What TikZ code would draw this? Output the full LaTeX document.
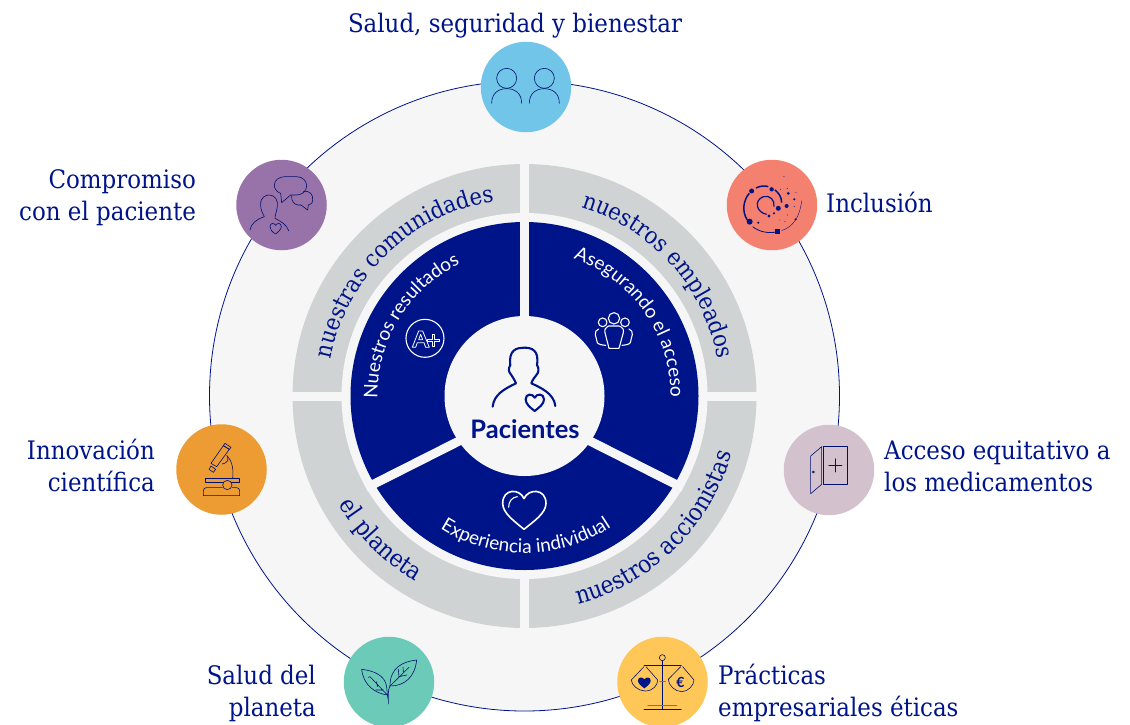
\documentclass[tikz,border=0pt]{standalone}
\usepackage{fontspec}
\usetikzlibrary{decorations.text}
\setmainfont{DejaVu Serif Condensed}
\newfontfamily\lat{Lato}
\definecolor{navy}{HTML}{001489}
\definecolor{ringbg}{HTML}{F6F6F7}
\definecolor{graybar}{HTML}{D0D3D4}
\definecolor{cblue}{HTML}{71C5E8}
\definecolor{csalmon}{HTML}{F4806F}
\definecolor{cpurple}{HTML}{9873A9}
\definecolor{corange}{HTML}{ED9B33}
\definecolor{cdoor}{HTML}{D3C1CD}
\definecolor{cleaf}{HTML}{6CCBB8}
\definecolor{cyellow}{HTML}{FFC658}
\newcommand{\outerfont}{\fontsize{25.5}{32}\selectfont\color{navy}}
\newcommand{\arcfont}{\fontsize{24.3}{32}\selectfont\color{navy}}
\newcommand{\arctopfont}{\fontsize{23.6}{32}\selectfont\color{navy}}
\newcommand{\innerfont}{\lat\fontsize{19}{22}\selectfont\color{white}}
\tikzset{
  badge/.style={circle,minimum size=90.5pt,inner sep=0pt,fill=#1},
  lab/.style={font=\outerfont,inner sep=0pt,text=navy},
  iconline/.style={draw=navy!80!black,line width=.6pt,line join=round,line cap=round},
  whiteline/.style={draw=white,line width=1.1pt,line join=round,line cap=round},
  curved/.style={decorate,decoration={text along path,text align=center,text={#1}}},
}
\begin{document}
\begin{tikzpicture}[x=1pt,y=-1pt]
\clip (0,0) rectangle (1130,724);
\useasboundingbox (0,0) rectangle (1130,724);
% rings
\node[circle,minimum size=630pt,inner sep=0pt,draw=navy,line width=.8pt,fill=ringbg] (ring) at (524.5,396) {};
\node[circle,minimum size=464pt,inner sep=0pt,fill=graybar] (gray) at (524.5,396) {};
\fill[ringbg] (519.8,160) rectangle (529,632);
\fill[ringbg] (288,392) rectangle (760,400.5);
\node[circle,minimum size=366pt,inner sep=0pt,fill=ringbg] (gap) at (524.5,396) {};
\node[circle,minimum size=348pt,inner sep=0pt,fill=navy] (core) at (524.5,396) {};
\coordinate (hub) at (524.5,408);
\draw[ringbg,line width=9pt] (524.5,340) -- (524.5,215);
\draw[ringbg,line width=9pt] (hub) -- (366,488);
\draw[ringbg,line width=9pt] (hub) -- (683,488);
\node[circle,minimum size=160pt,inner sep=0pt,fill=ringbg] (centre) at (524.5,396) {};
% curved texts
\begin{scope}[shift={(524.5,396)},x=1pt,y=1pt]
\path[curved={|\arctopfont|nuestras comunidades}] (171:197) arc[start angle=171,end angle=97,radius=197];
\path[curved={|\arctopfont|nuestros empleados}] (75:197) arc[start angle=75,end angle=9,radius=197];
\path[curved={|\arcfont|nuestros accionistas}] (-78:215) arc[start angle=-78,end angle=-13,radius=215];
\path[curved={|\arcfont|el planeta}] (209:215) arc[start angle=209,end angle=241,radius=215];
\path[curved={|\innerfont|Nuestros resultados}] (180:147) arc[start angle=180,end angle=117,radius=147];
\path[curved={|\innerfont|Asegurando el acceso}] (72:146) arc[start angle=72,end angle=-2,radius=146];
\path[curved={|\innerfont|Experiencia individual}] (236:157) arc[start angle=236,end angle=305,radius=157];
\end{scope}
% badges
\node[badge=cblue] (b1) at (526,87) {};
\node[badge=csalmon] (b2) at (772,205) {};
\node[badge=cdoor] (b3) at (829,470) {};
\node[badge=cyellow] (b4) at (662.5,682) {};
\node[badge=cleaf] (b5) at (389,682) {};
\node[badge=corange] (b6) at (221.5,469.5) {};
\node[badge=cpurple] (b7) at (281.5,205) {};
% labels
\node[lab,anchor=base] (l1) at (515,32.5) {Salud, seguridad y bienestar};
\node[lab,anchor=base west] (l2) at (826,212) {Inclusión};
\node[lab,anchor=base west] (l3a) at (884,459.5) {Acceso equitativo a};
\node[lab,anchor=base west] (l3b) at (884,491.5) {los medicamentos};
\node[lab,anchor=base west] (l4a) at (718,684.5) {Prácticas};
\node[lab,anchor=base west] (l4b) at (718,716.5) {empresariales éticas};
\node[lab,anchor=base east] (l5a) at (316,684.5) {Salud del};
\node[lab,anchor=base east] (l5b) at (316,716.5) {planeta};
\node[lab,anchor=base east] (l6a) at (155,459.5) {Innovación};
\node[lab,anchor=base east] (l6b) at (155,491.5) {científica};
\node[lab,anchor=base east] (l7a) at (196,188.5) {Compromiso};
\node[lab,anchor=base east] (l7b) at (196,220.5) {con el paciente};
\node[inner sep=0pt,anchor=base,text=navy,font={\lat\bfseries\fontsize{25.5}{28}\selectfont}] (pac) at (525,438) {Pacientes};
% patient + white icons (zoom 3 frame)
\begin{scope}[shift={(440,300)},x=.3333pt,y=-.3333pt]
\draw[navy,line width=2.1pt,line join=round,line cap=round]
 (158,320) .. controls (162,285) and (190,268) .. (228,250)
 .. controls (222,235) and (216,230) .. (212,222)
 .. controls (205,215) and (205,205) .. (211,195)
 .. controls (205,150) and (230,143) .. (252,143)
 .. controls (275,143) and (298,150) .. (291,195)
 .. controls (298,205) and (296,218) .. (290,224)
 .. controls (284,232) and (278,238) .. (274,250)
 .. controls (300,262) and (342,280) .. (346,318);
\draw[navy,line width=2.1pt,line join=round]
 (284,333) .. controls (270,322) and (257,312) .. (257,298)
 .. controls (257,280) and (278,280) .. (284,293)
 .. controls (290,280) and (312,280) .. (312,298)
 .. controls (312,312) and (298,322) .. (284,333) -- cycle;
% group
\draw[whiteline] (522,55) circle[radius=17];
\draw[whiteline] (488,67) circle[radius=13];
\draw[whiteline] (555,67) circle[radius=13];
\draw[whiteline] (505,78) -- (537,78) .. controls (548,82) and (552,88) .. (550,98) -- (537,145) -- (507,145) -- (495,98) .. controls (493,88) and (497,82) .. (505,78);
\draw[whiteline] (476,87) .. controls (468,90) and (465,96) .. (466,104) -- (472,128) .. controls (475,133) and (485,135) .. (497,136);
\draw[whiteline] (567,87) .. controls (575,90) and (578,96) .. (577,104) -- (571,128) .. controls (568,133) and (558,135) .. (546,136);
% big heart
\draw[white,line width=1.6pt,line join=round,line cap=round]
 (252,688) .. controls (225,665) and (188,640) .. (188,610)
 .. controls (188,565) and (240,565) .. (252,596)
 .. controls (265,565) and (318,565) .. (318,610)
 .. controls (318,640) and (280,665) .. (252,688) -- cycle;
\draw[white,line width=1.1pt,line cap=round] (206,622) .. controls (206,605) and (215,592) .. (232,590);
\end{scope}
% A+ (zoom 2 frame)
\begin{scope}[shift={(220,150)},x=.3333pt,y=-.3333pt]
\draw[whiteline] (615,565) circle[radius=57];
\draw[white,line width=.8pt,line join=round] (577,592) -- (596,543) -- (608,543) -- (628,592) -- (617,592) -- (612,578) -- (592,578) -- (587,592) -- cycle (596,569) -- (602,553) -- (608,569) -- cycle;
\draw[white,line width=.8pt,line join=round] (636,554) -- (644,554) -- (644,567) -- (657,567) -- (657,575) -- (644,575) -- (644,588) -- (636,588) -- (636,575) -- (623,575) -- (623,567) -- (636,567) -- cycle;
% chat icon
\draw[iconline] (90,240) .. controls (93,220) and (110,208) .. (133,200)
 .. controls (128,190) and (122,180) .. (122,165)
 .. controls (120,140) and (140,135) .. (147,135)
 .. controls (165,135) and (175,150) .. (172,170)
 .. controls (170,185) and (165,195) .. (165,205)
 .. controls (185,215) and (200,225) .. (206,242);
\draw[iconline] (167,252) .. controls (155,245) and (150,238) .. (150,230)
 .. controls (150,218) and (163,218) .. (167,226)
 .. controls (171,218) and (184,218) .. (184,230)
 .. controls (184,238) and (175,245) .. (167,252) -- cycle;
\draw[iconline] (195,80) -- (230,80) .. controls (250,80) and (260,95) .. (260,107)
 .. controls (260,125) and (245,135) .. (230,135) -- (212,135) -- (185,158) -- (182,130)
 .. controls (168,125) and (163,115) .. (163,105)
 .. controls (163,90) and (178,80) .. (195,80) -- cycle;
\draw[iconline] (250,125) .. controls (270,120) and (280,135) .. (278,150)
 .. controls (278,160) and (270,165) .. (265,165) -- (263,180) -- (243,165) -- (235,165)
 .. controls (225,165) and (213,155) .. (215,137);
\end{scope}
% zoom 1 frame: persons, spiral
\begin{scope}[shift={(460,30)},x=.3333pt,y=-.3333pt]
\draw[iconline] (140,145) circle[radius=30];
\draw[iconline] (253,145) circle[radius=30];
\draw[iconline] (95,220) .. controls (95,190) and (115,176) .. (140,176) .. controls (165,176) and (185,190) .. (185,220);
\draw[iconline] (208,220) .. controls (208,190) and (228,176) .. (253,176) .. controls (278,176) and (298,190) .. (298,220);
% spiral
\draw[navy,line width=1.5pt] (868,490) .. controls (850,510) and (845,545) .. (862,570);
\draw[navy,line width=1.5pt] (888,474) .. controls (900,468) and (915,466) .. (925,470);
\draw[navy,line width=1.5pt] (945,480) .. controls (955,488) and (965,500) .. (965,518);
\draw[navy,line width=1.2pt] (920,553) .. controls (890,548) and (880,512) .. (910,500) .. controls (930,495) and (945,510) .. (942,530);
\draw[navy,line width=.8pt] (878,590) .. controls (900,608) and (930,610) .. (948,606);
\draw[navy,line width=.4pt] (965,602) .. controls (1000,590) and (1020,560) .. (1025,512);
\foreach \px/\py/\pr in {875/483/7.5,935/478/6.5,869/575/9,955/535/7.5,927/558/5,942/550/3.5,895/578/3.5,980/528/6,985/490/4.5,1003/508/3.5,1008/487/1.5,1007/568/3.5,982/555/1.5,1003/530/1.5,972/440/1.5,982/475/1.5,962/478/1.5,960/570/1.5,975/575/1.5}
  \fill[navy] (\px,\py) circle[radius=\pr];
\fill[navy] (946,598) rectangle (960,612);
\end{scope}
% microscope
\begin{scope}[shift={(170,420)},x=.3333pt,y=-.3333pt]
\draw[iconline] (160,77) -- (178,88) -- (140,140) -- (123,130) -- cycle;
\draw[iconline] (165,70) -- (183,82) -- (178,88) -- (160,77) -- cycle;
\draw[iconline] (123,138) -- (137,148) -- (130,157) -- (117,148) -- cycle;
\draw[iconline] (170,107) .. controls (190,125) and (190,155) .. (188,175);
\draw[iconline] (157,132) .. controls (170,130) and (178,120) .. (172,108);
\draw[iconline] (106,175) rectangle (209,188);
\draw[iconline,fill=corange] (172,195) circle[radius=14];
\draw[iconline] (157,203) -- (110,203) .. controls (105,203) and (100,205) .. (100,212) -- (100,227) -- (209,227) -- (209,212) .. controls (209,207) and (205,203) .. (200,203) -- (187,203);
\end{scope}
% door
\begin{scope}[shift={(775,420)},x=.3333pt,y=-.3333pt]
\draw[iconline] (145,78) rectangle (218,193);
\draw[iconline] (161,136) -- (201,136) (181,116) -- (181,156);
\draw[iconline] (107,108) -- (140,80) -- (140,193) -- (107,221) -- cycle;
\draw[iconline] (115,156) circle[radius=3];
\end{scope}
% leaves
\begin{scope}[shift={(335,630)},x=.3333pt,y=-.3333pt]
\draw[iconline] (80,118) .. controls (115,122) and (150,135) .. (155,170) -- (157,195) .. controls (120,190) and (85,165) .. (80,118) -- cycle;
\draw[iconline] (105,140) -- (157,195) (125,155) -- (127,170) (122,180) -- (145,180) (105,140) -- (100,142);
\draw[iconline] (245,90) .. controls (200,95) and (165,115) .. (165,168) .. controls (210,168) and (240,140) .. (245,90) -- cycle;
\draw[iconline] (165,168) -- (222,112) (192,140) -- (190,118) (192,140) -- (215,135) (205,125) -- (204,112);
\draw[iconline] (160,222) -- (160,190) .. controls (160,180) and (162,175) .. (165,168) (157,195) -- (160,210);
\end{scope}
% scales
\begin{scope}[shift={(610,630)},x=.3333pt,y=-.3333pt]
\draw[iconline] (157,83) circle[radius=9];
\draw[iconline] (157,92) -- (157,238) (102,107) -- (214,107) (102,238) -- (214,238);
\draw[iconline,draw=navy!50!cyellow,line width=1.2pt] (114,227) -- (200,227) (150,155) -- (166,155);
\draw[iconline] (102,110) -- (64,150) .. controls (64,165) and (85,183) .. (105,183) .. controls (130,183) and (143,165) .. (143,150) -- (108,110);
\draw[iconline] (212,110) -- (175,148) .. controls (175,165) and (195,185) .. (215,185) .. controls (235,185) and (252,165) .. (252,150) -- (218,110);
\fill[navy] (103,175) .. controls (92,167) and (84,160) .. (84,152) .. controls (84,140) and (98,140) .. (103,148) .. controls (108,140) and (122,140) .. (122,152) .. controls (122,160) and (114,167) .. (103,175) -- cycle;
\node[inner sep=0pt,text=navy,font={\lat\bfseries\fontsize{14}{14}\selectfont}] (euro) at (211,158) {€};
\end{scope}
\end{tikzpicture}
\end{document}
